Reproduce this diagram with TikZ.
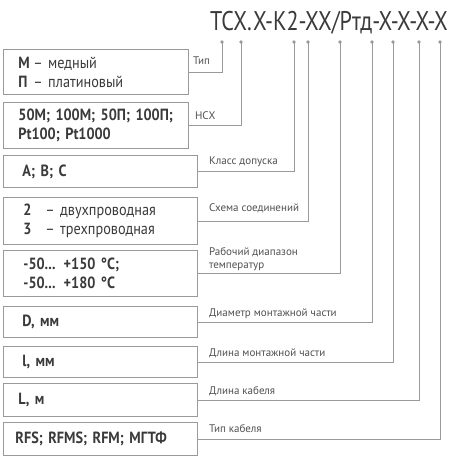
\documentclass[tikz,border=0pt]{standalone}
\usepackage{fontspec}
\setmainfont{PT Sans}
\newfontfamily\titlefont[FakeStretch=0.82]{PT Sans}
\newfontfamily\boxfont[FakeStretch=0.88]{PT Sans}
\definecolor{linegray}{HTML}{9A9A9A}
\definecolor{textgray}{HTML}{3A3A3A}
\definecolor{labelgray}{HTML}{505050}
\tikzset{
  codebox/.style={draw=linegray, line width=0.9pt, anchor=north west, inner xsep=15pt, inner ysep=0pt,
    align=left, text=textgray, font=\boxfont\fontsize{16.2}{19}\selectfont},
  codelabel/.style={anchor=base west, inner sep=0pt, align=left, text=labelgray,
    font=\fontsize{11}{12.5}\selectfont},
  link/.style={draw=linegray, line width=0.9pt},
}
\begin{document}
\begin{tikzpicture}[x=1pt,y=-1pt]
\useasboundingbox (0,0) rectangle (450,467);

% designation
\node[anchor=base east, inner sep=0pt, text=textgray, font=\titlefont\fontsize{27}{30}\selectfont] (code) at (448,30) {ТСХ.Х-К2-ХХ/Ртд-Х-Х-Х-Х};

% dots under the designation
\foreach \n/\x in {1/222,2/241,3/294,4/308,5/340,6/372,7/393,8/419,9/440} {
  \coordinate (d\n) at (\x,42);
  \fill[linegray] (d\n) circle (1.8pt);
}

% boxes
\node[codebox, text width=155pt, minimum height=45pt] (b1) at (3,49)
  {\makebox[15pt][l]{\textbf{М}}– медный\\ \makebox[15pt][l]{\textbf{П}}– платиновый};
\node[codebox, text width=155pt, minimum height=46pt] (b2) at (3,102)
  {\textbf{50М; 100М; 50П; 100П;}\\ \textbf{Pt100; Pt1000}};
\node[codebox, text width=164pt, minimum height=32pt] (b3) at (3,155)
  {\hspace*{4pt}\textbf{A; B; C}};
\node[codebox, text width=164pt, minimum height=47pt] (b4) at (3,197)
  {\hspace*{5pt}\makebox[22pt][l]{\textbf{2}}– двухпроводная\\ \hspace*{5pt}\makebox[22pt][l]{\textbf{3}}– трехпроводная};
\node[codebox, text width=164pt, minimum height=46pt] (b5) at (3,250)
  {\hspace*{5pt}\textbf{-50... +150 °C;}\\ \hspace*{5pt}\textbf{-50... +180 °C}};
\node[codebox, text width=164pt, minimum height=31pt] (b6) at (3,306)
  {\hspace*{4pt}\textbf{D, мм}};
\node[codebox, text width=164pt, minimum height=31pt] (b7) at (3,346)
  {\hspace*{4pt}\textbf{l, мм}};
\node[codebox, text width=164pt, minimum height=33pt] (b8) at (3,383)
  {\textbf{L, м}};
\node[codebox, text width=164pt, minimum height=33pt] (b9) at (3,422)
  {\hspace*{-3pt}\textbf{RFS; RFMS; RFM; МГТФ}};

% labels
\node[codelabel] (l1) at ([xshift=4pt,yshift=7pt]b1.east) {Тип};
\node[codelabel] (l2) at ([xshift=6pt,yshift=6pt]b2.east) {НСХ};
\node[codelabel] (l3) at ([xshift=11pt,yshift=7pt]b3.east) {Класс допуска};
\node[codelabel] (l4) at ([xshift=11pt,yshift=9pt]b4.east) {Схема соединений};
\node[codelabel] (l5) at ([xshift=11pt,yshift=5pt]b5.east) {Рабочий диапазон\\температур};
\node[codelabel] (l6) at ([xshift=11pt,yshift=5pt]b6.east) {Диаметр монтажной части};
\node[codelabel] (l7) at ([xshift=11pt,yshift=5pt]b7.east) {Длина монтажной части};
\node[codelabel] (l8) at ([xshift=11pt,yshift=5pt]b8.east) {Длина кабеля};
\node[codelabel] (l9) at ([xshift=11pt,yshift=6pt]b9.east) {Тип кабеля};

% connectors
\foreach \n in {1,...,9} {\draw[link] (b\n.east) -| (d\n);}
\end{tikzpicture}
\end{document}
